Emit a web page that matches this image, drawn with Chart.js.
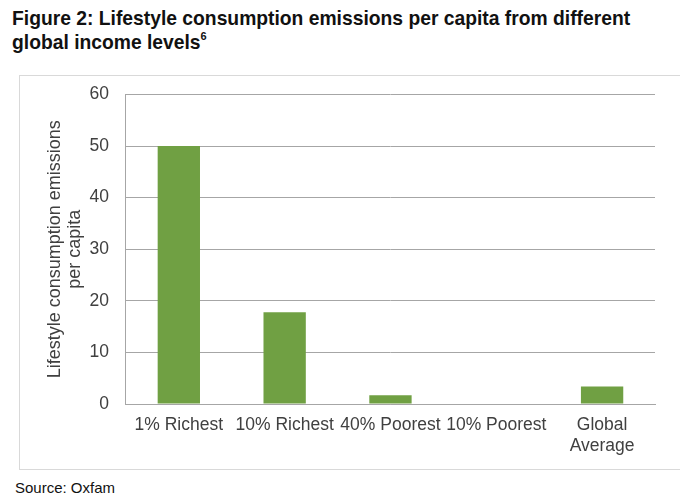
<!DOCTYPE html>
<html>
<head>
<meta charset="utf-8">
<script src="https://cdn.jsdelivr.net/npm/chart.js@4"></script>
<style>
  html, body { margin: 0; padding: 0; background: #fff; width: 680px; height: 501px; overflow: hidden; }
  #title {
    position: absolute; left: 12px; top: 7px;
    font-family: "Liberation Sans", Arial, sans-serif;
    font-weight: bold; font-size: 19.3px; line-height: 24px; color: #111;
  }
  #title sup { font-size: 11px; vertical-align: 9px; line-height: 0; }
  #frame {
    position: absolute; left: 19px; top: 75px; width: 700px; height: 395px;
    border: 1px solid #d9d9d9; box-sizing: border-box;
  }
  #box { position: absolute; left: 19px; top: 67px; width: 661px; height: 402px; }
  #source {
    position: absolute; left: 15px; top: 479px;
    font-family: "Liberation Sans", Arial, sans-serif; font-size: 15px; color: #111;
  }
</style>
</head>
<body>
<div id="title">Figure 2: Lifestyle consumption emissions per capita from different<br>global income levels<sup>6</sup></div>
<div id="frame"></div>
<div id="box"><canvas id="emissionsChart"></canvas></div>
<div id="source">Source: Oxfam</div>
<script>
const categories = ["1% Richest", "10% Richest", "40% Poorest", "10% Poorest", ["Global", "Average"]];
const emissions = [50, 17.8, 1.7, 0.1, 3.4];
const yTicks = [0, 10, 20, 30, 40, 50, 60];

const green = "#70a043";
const grey = "#a6a6a6";
const textColor = "#404040";

const data = {
  labels: categories,
  datasets: [
    {
      label: "Lifestyle consumption emissions per capita",
      data: emissions,
      backgroundColor: green,
      borderWidth: 0,
      categoryPercentage: 1,
      barPercentage: 0.4,
    },
  ],
};

const config = {
  type: "bar",
  data: data,
  options: {
    responsive: true,
    maintainAspectRatio: false,
    animation: false,
    layout: {
      padding: { left: 12, right: 25, top: 0, bottom: 1 },
    },
    plugins: {
      legend: { display: false },
      title: { display: false },
      tooltip: { enabled: false },
    },
    scales: {
      x: {
        grid: { display: false, drawTicks: false },
        border: { color: grey, width: 1 },
        ticks: {
          color: textColor,
          maxRotation: 0,
          autoSkip: false,
          padding: 11,
          font: { family: "Liberation Sans", size: 17.5, lineHeight: 1.2 },
        },
      },
      y: {
        min: 0,
        max: 60,
        afterBuildTicks: (axis) => {
          axis.ticks = yTicks.map((v) => ({ value: v }));
        },
        grid: { color: grey, drawTicks: false },
        border: { color: grey, width: 1 },
        ticks: {
          color: textColor,
          padding: 17,
          font: { family: "Liberation Sans", size: 17.5 },
        },
        title: {
          display: true,
          text: ["Lifestyle consumption emissions", "per capita"],
          color: textColor,
          // negative bottom pulls the ticks closer to the title
          padding: { top: 14, bottom: -12.5 },
          font: { family: "Liberation Sans", size: 18, lineHeight: 1.11 },
        },
      },
    },
  },
};

new Chart(document.getElementById("emissionsChart"), config);
</script>
</body>
</html>
